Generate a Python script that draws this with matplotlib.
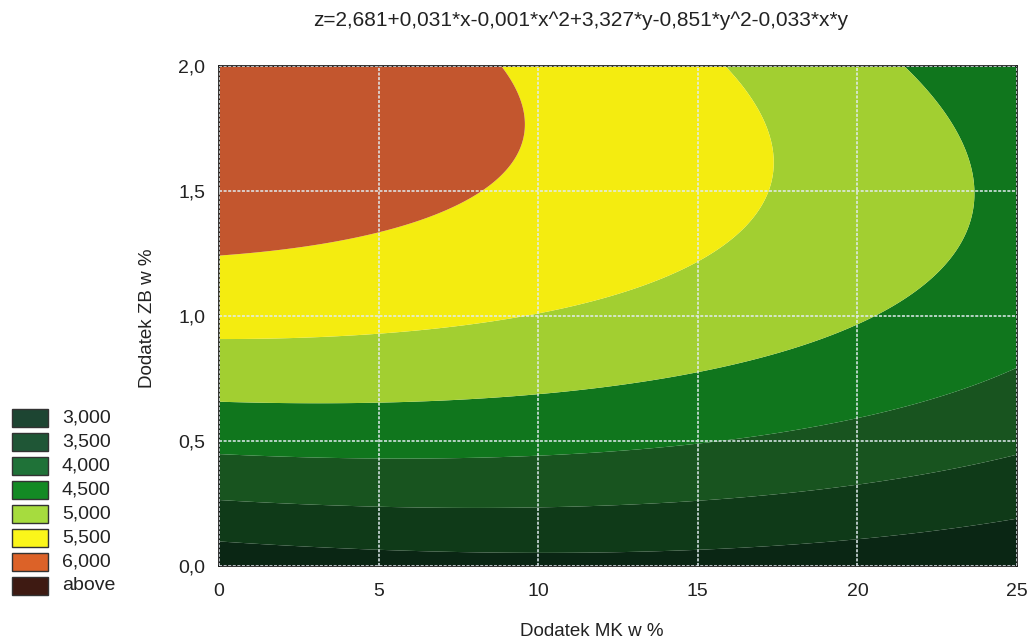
import numpy as np
import matplotlib
matplotlib.use("Agg")
import matplotlib.pyplot as plt
from matplotlib.patches import Rectangle

# Fitted response surface z = b0 + b1*x + b2*x^2 + b3*y + b4*y^2 + b5*x*y
# (coefficients at full precision; the title prints them rounded to 3 decimals)
coefficients = [2.681, 0.0306, -0.00142, 3.327, -0.851, -0.0334]
title_text = "z=2,681+0,031*x-0,001*x^2+3,327*y-0,851*y^2-0,033*x*y"

x_limits = [0, 25]
y_limits = [0.0, 2.0]
x_ticks = [0, 5, 10, 15, 20, 25]
y_ticks = [0.0, 0.5, 1.0, 1.5, 2.0]
y_tick_labels = ["0,0", "0,5", "1,0", "1,5", "2,0"]

level_bounds = [3.0, 3.5, 4.0, 4.5, 5.0, 5.5, 6.0]
legend_labels = ["3,000", "3,500", "4,000", "4,500", "5,000", "5,500", "6,000", "above"]
band_colors = ["#0a2614", "#0f3a18", "#18541f", "#10761d", "#a2cf31",
               "#f4ec10", "#c3562e", "#4a1e14"]
legend_colors = ["#1d4532", "#1f5636", "#1f7238", "#138a24", "#a6dc3e",
                 "#fbf61a", "#dc6228", "#3e1a12"]

x_label = "Dodatek MK w %"
y_label = "Dodatek ZB w %"

font = ["Liberation Sans", "DejaVu Sans"]

b0, b1, b2, b3, b4, b5 = coefficients
xs = np.linspace(x_limits[0], x_limits[1], 400)
ys = np.linspace(y_limits[0], y_limits[1], 400)
X, Y = np.meshgrid(xs, ys)
Z = b0 + b1 * X + b2 * X ** 2 + b3 * Y + b4 * Y ** 2 + b5 * X * Y

levels = [min(Z.min(), level_bounds[0]) - 1.0] + level_bounds + [max(Z.max(), level_bounds[-1]) + 1.0]

W, H = 1031, 640
fig = plt.figure(figsize=(W / 100, H / 100), dpi=100)
fig.patch.set_facecolor("white")

ax = fig.add_axes([219 / W, 1 - 566 / H, (1017 - 219) / W, (566 - 66) / H])
ax.contourf(X, Y, Z, levels=levels, colors=band_colors, antialiased=True)
ax.set_xlim(x_limits)
ax.set_ylim(y_limits)
ax.set_xticks(x_ticks)
ax.set_xticklabels([str(t) for t in x_ticks])
ax.set_yticks(y_ticks)
ax.set_yticklabels(y_tick_labels)
ax.tick_params(axis="x", length=0, pad=12, labelsize=14, labelcolor="#222222")
ax.tick_params(axis="y", length=0, pad=10, labelsize=14, labelcolor="#222222")
for lab in ax.get_xticklabels() + ax.get_yticklabels():
    lab.set_family(font)
ax.grid(True, color="#e2ecf0", linestyle=(0, (2, 1)), linewidth=1.1)
ax.set_axisbelow(False)
for s in ax.spines.values():
    s.set_color("#111111")
    s.set_linewidth(1.2)

fig.text(581 / W, 1 - 20 / H, title_text, ha="center", va="center",
         fontsize=15, family=font, color="#222222")
fig.text(592 / W, 1 - 632 / H, x_label, ha="center", va="center",
         fontsize=13.5, family=font, color="#222222")
fig.text(148 / W, 1 - 318 / H, y_label, ha="center", va="center",
         rotation=90, fontsize=13.5, family=font, color="#222222")

# Legend: swatches with level labels down the left side
row_step = 24
first_center = 418
for i, (col, lab) in enumerate(zip(legend_colors, legend_labels)):
    cy = first_center + i * row_step
    fig.patches.append(Rectangle((12 / W, 1 - (cy + 9) / H), 36 / W, 18 / H,
                                 transform=fig.transFigure, facecolor=col,
                                 edgecolor="#333333", linewidth=1.0))
    fig.text(62 / W, 1 - cy / H, lab, ha="left", va="center",
             fontsize=14, family=font, color="#222222")

fig.savefig("out.png", dpi=100)
